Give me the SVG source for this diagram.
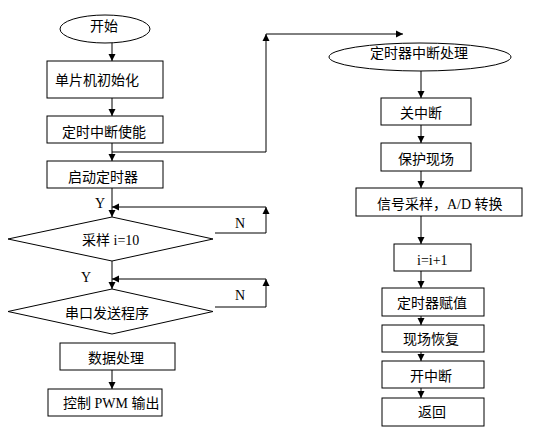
<svg xmlns="http://www.w3.org/2000/svg" width="546" height="433" viewBox="0 0 546 433">
<style>
.n{fill:#fff;stroke:#000;stroke-width:1}
.t{font-family:"Liberation Serif","Noto Sans CJK SC",serif;font-size:14px;fill:#000}
.c{fill:none;stroke:#000;stroke-width:1}
.m{text-anchor:middle}
</style>
<defs>
<marker id="a" markerUnits="userSpaceOnUse" markerWidth="8" markerHeight="8" refX="7" refY="4" orient="auto">
<path d="M0,0.5 L7,4 L0,7.5 Z" fill="#000"/>
</marker>
</defs>
<rect width="546" height="433" fill="#fff"/>
<g id="connectors">
<line class="c" x1="112" y1="43" x2="112" y2="61" marker-end="url(#a)"/>
<line class="c" x1="112" y1="98" x2="112" y2="116" marker-end="url(#a)"/>
<line class="c" x1="112" y1="143" x2="112" y2="161" marker-end="url(#a)"/>
<line class="c" x1="112" y1="188" x2="112" y2="217" marker-end="url(#a)"/>
<line class="c" x1="112" y1="261" x2="112" y2="289" marker-end="url(#a)"/>
<line class="c" x1="112" y1="370" x2="112" y2="389" marker-end="url(#a)"/>
<polyline class="c" points="112,152 266,152 266,34" marker-end="url(#a)"/>
<line class="c" x1="266" y1="34" x2="403" y2="34" marker-end="url(#a)"/>
<polyline class="c" points="215,233 266,233 266,207" marker-end="url(#a)"/>
<line class="c" x1="266" y1="207" x2="112" y2="207" marker-end="url(#a)"/>
<polyline class="c" points="215,307 266,307 266,279" marker-end="url(#a)"/>
<line class="c" x1="266" y1="279" x2="112" y2="279" marker-end="url(#a)"/>
<line class="c" x1="421" y1="71" x2="421" y2="98" marker-end="url(#a)"/>
<line class="c" x1="421" y1="125" x2="421" y2="143" marker-end="url(#a)"/>
<line class="c" x1="421" y1="171" x2="421" y2="188" marker-end="url(#a)"/>
<line class="c" x1="421" y1="216" x2="421" y2="244" marker-end="url(#a)"/>
<line class="c" x1="421" y1="271" x2="421" y2="288" marker-end="url(#a)"/>
<line class="c" x1="421" y1="316" x2="421" y2="325" marker-end="url(#a)"/>
<line class="c" x1="421" y1="352" x2="421" y2="361" marker-end="url(#a)"/>
<line class="c" x1="421" y1="388" x2="421" y2="398" marker-end="url(#a)"/>
<text class="t" x="95" y="208">Y</text>
<text class="t" x="81" y="282">Y</text>
<text class="t" x="235" y="228">N</text>
<text class="t" x="235" y="300">N</text>
</g>
<g id="start"><ellipse class="n" cx="105" cy="29" rx="45" ry="14"/><text class="t m" x="104" y="31">开始</text></g>
<g id="init"><rect class="n" x="47" y="61" width="116" height="37"/><text class="t" x="55" y="85">单片机初始化</text></g>
<g id="enable"><rect class="n" x="47" y="116" width="116" height="27"/><text class="t" x="62" y="137">定时中断使能</text></g>
<g id="starttimer"><rect class="n" x="47" y="161" width="116" height="27"/><text class="t" x="68" y="182">启动定时器</text></g>
<g id="sample"><polygon class="n" points="112,217 213,239 112,261 8,239"/><text class="t" x="82" y="245">采样 i=10</text></g>
<g id="serial"><polygon class="n" points="112,289 213,311.5 112,334 8,311.5"/><text class="t" x="65" y="318">串口发送程序</text></g>
<g id="process"><rect class="n" x="60" y="343" width="115" height="27"/><text class="t" x="88" y="363">数据处理</text></g>
<g id="pwm"><rect class="n" x="48" y="389" width="114" height="27"/><text class="t" x="63" y="408">控制 PWM 输出</text></g>
<g id="isr"><ellipse class="n" cx="420" cy="57" rx="91" ry="14"/><text class="t" x="370" y="58">定时器中断处理</text></g>
<g id="disable"><rect class="n" x="381" y="98" width="90" height="27"/><text class="t" x="400" y="118">关中断</text></g>
<g id="save"><rect class="n" x="381" y="143" width="90" height="28"/><text class="t" x="398" y="164">保护现场</text></g>
<g id="adc"><rect class="n" x="356" y="188" width="166" height="28"/><text class="t" x="377" y="209">信号采样，A/D 转换</text></g>
<g id="inc"><rect class="n" x="394" y="244" width="77" height="27"/><text class="t" x="417" y="265">i=i+1</text></g>
<g id="reload"><rect class="n" x="382" y="288" width="102" height="28"/><text class="t" x="397" y="308">定时器赋值</text></g>
<g id="restore"><rect class="n" x="382" y="325" width="102" height="27"/><text class="t" x="403" y="344">现场恢复</text></g>
<g id="enableint"><rect class="n" x="382" y="361" width="102" height="27"/><text class="t" x="410" y="381">开中断</text></g>
<g id="ret"><rect class="n" x="382" y="398" width="102" height="28"/><text class="t" x="418" y="417">返回</text></g>
</svg>
